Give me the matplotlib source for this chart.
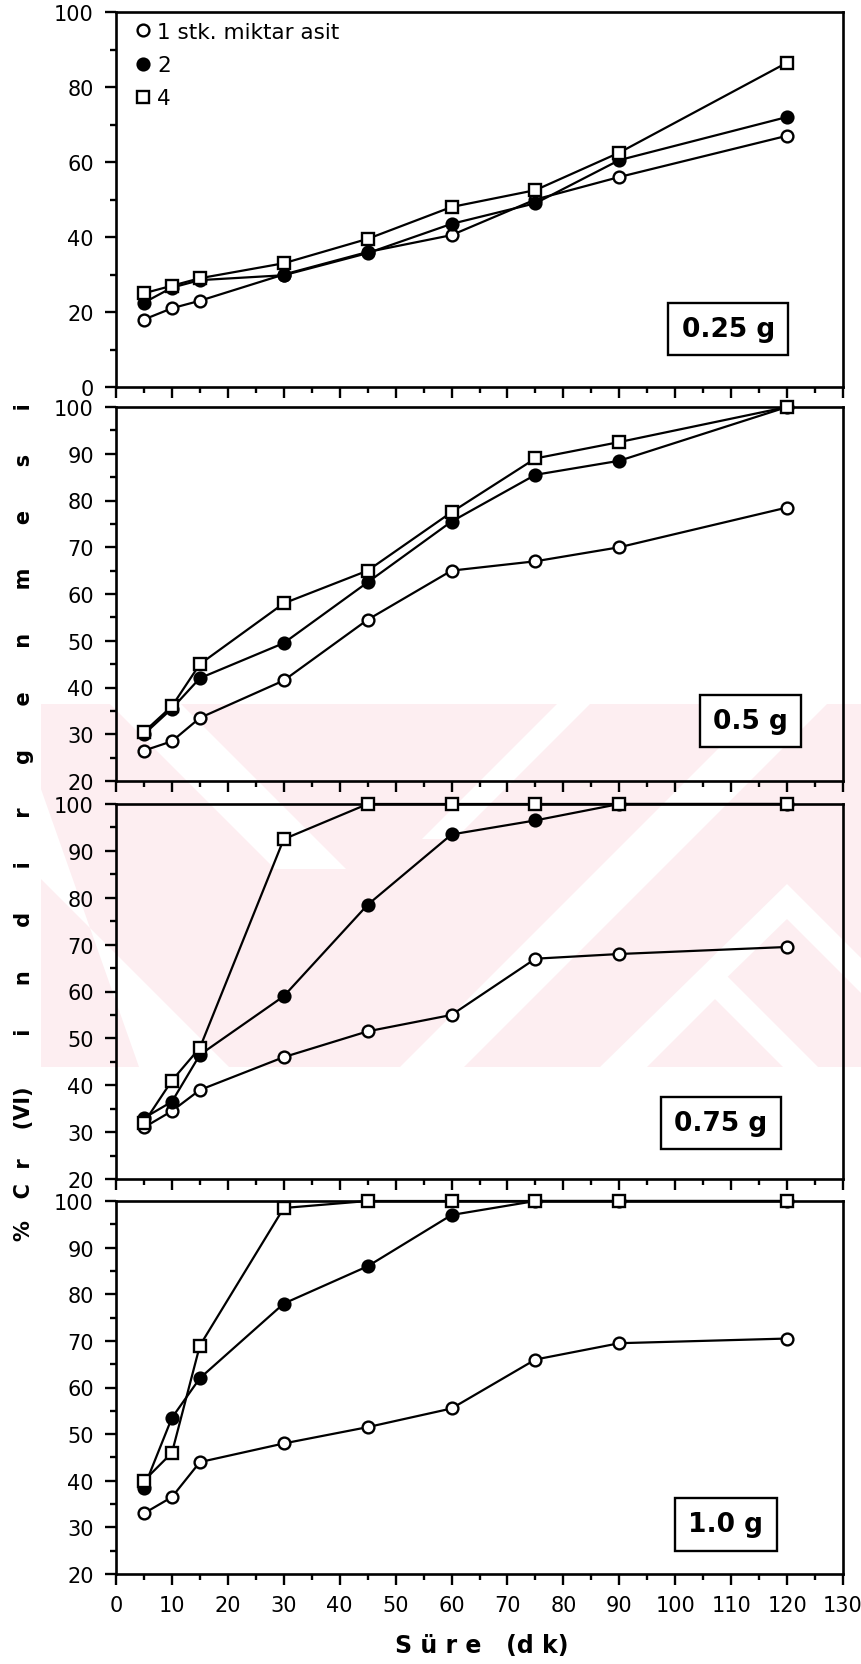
import matplotlib
matplotlib.use("Agg")
import matplotlib.pyplot as plt
from matplotlib.lines import Line2D
from matplotlib.patches import Polygon
from matplotlib.ticker import MultipleLocator

# ---------------- data ----------------
time_min = [5, 10, 15, 30, 45, 60, 75, 90, 120]
series_labels = ["1 stk. miktar asit", "2", "4"]
panel_labels = ["0.25 g", "0.5 g", "0.75 g", "1.0 g"]

# 0.25 g
p025_acid1 = [18, 21, 23, 30, 36, 40.5, 50, 56, 67]
p025_acid2 = [22.5, 26.5, 28.5, 29.8, 35.7, 43.5, 49, 60.5, 72]
p025_acid4 = [25, 27, 29, 33, 39.5, 48, 52.5, 62.5, 86.5]
# 0.5 g
p050_acid1 = [26.5, 28.5, 33.5, 41.5, 54.5, 65, 67, 70, 78.5]
p050_acid2 = [30, 35.5, 42, 49.5, 62.5, 75.5, 85.5, 88.5, 100]
p050_acid4 = [30.5, 36, 45, 58, 65, 77.5, 89, 92.5, 100]
# 0.75 g
p075_acid1 = [31, 34.5, 39, 46, 51.5, 55, 67, 68, 69.5]
p075_acid2 = [33, 36.5, 46.5, 59, 78.5, 93.5, 96.5, 100, 100]
p075_acid4 = [32, 41, 48, 92.5, 100, 100, 100, 100, 100]
# 1.0 g
p100_acid1 = [33, 36.5, 44, 48, 51.5, 55.5, 66, 69.5, 70.5]
p100_acid2 = [38.5, 53.5, 62, 78, 86, 97, 100, 100, 100]
p100_acid4 = [40, 46, 69, 98.5, 100, 100, 100, 100, 100]

panels = [
    (p025_acid1, p025_acid2, p025_acid4),
    (p050_acid1, p050_acid2, p050_acid4),
    (p075_acid1, p075_acid2, p075_acid4),
    (p100_acid1, p100_acid2, p100_acid4),
]

y_label = "%   C  r    (VI)       i      n      d      i      r      g      e      n      m      e      s      i"
x_label = "S ü r e   (d k)"

# ---------------- layout ----------------
W, H = 861, 1665
fig = plt.figure(figsize=(W / 100, H / 100), dpi=100)
fig.patch.set_facecolor("white")


def fpoly(pts, **kw):
    return Polygon([(x / W, 1 - y / H) for x, y in pts], closed=True,
                   transform=fig.transFigure, **kw)


# faint background watermark (pink diagonal pattern) behind the axes
pink = "#fdeef1"
y0w, y1w = 705, 1068
fig.patches.append(fpoly([(41, y0w), (861, y0w), (861, y1w), (41, y1w)], fc=pink, ec="none", zorder=-2))
white_shapes = [
    [(110, y0w), (181, y0w), (346, 870), (275, 870)],
    [(41, 790), (41, 880), (229, y1w), (139, y1w)],
    [(763, y0w), (827, y0w), (464, y1w), (400, y1w)],
    [(557, y0w), (590, y0w), (455, 840), (422, 840)],
    [(787, 885), (861, 959), (861, 994), (787, 920), (635, y1w), (600, y1w)],
    [(715, 965), (818, y1w), (783, y1w), (715, 1000), (647, y1w), (612, y1w)],
]
for pts in white_shapes:
    fig.patches.append(fpoly(pts, fc="white", ec="none", zorder=-1))

left_px, right_px = 116, 843
panel_px = [(13, 388), (408, 782), (805, 1180), (1202, 1575)]
ylims = [(0, 100), (20, 100), (20, 100), (20, 100)]
label_pos = [(0.842, 0.155), (0.873, 0.16), (0.832, 0.15), (0.839, 0.133)]

styles = [
    dict(marker="o", mfc="white", mec="black"),
    dict(marker="o", mfc="black", mec="black"),
    dict(marker="s", mfc="white", mec="black"),
]

axes = []
for i, ((top, bot), (ya, yb)) in enumerate(zip(panel_px, ylims)):
    ax = fig.add_axes([left_px / W, 1 - bot / H, (right_px - left_px) / W, (bot - top) / H])
    ax.set_facecolor("none")
    ax.set_xlim(0, 130)
    ax.set_ylim(ya, yb)
    for vals, st in zip(panels[i], styles):
        ax.plot(time_min, vals, color="black", lw=1.6, ms=8.5, mew=1.7,
                clip_on=False, zorder=3, **st)
    for sp in ax.spines.values():
        sp.set_linewidth(1.9)
    ax.xaxis.set_major_locator(MultipleLocator(10))
    ax.xaxis.set_minor_locator(MultipleLocator(5))
    if i == 0:
        ax.yaxis.set_major_locator(MultipleLocator(20))
        ax.yaxis.set_minor_locator(MultipleLocator(10))
    else:
        ax.yaxis.set_major_locator(MultipleLocator(10))
        ax.yaxis.set_minor_locator(MultipleLocator(5))
    ax.tick_params(which="both", direction="out", top=False, right=False, width=1.7)
    ax.tick_params(which="major", length=8, labelsize=15)
    ax.tick_params(axis="y", which="major", pad=8)
    ax.tick_params(axis="x", which="major", pad=7)
    ax.tick_params(which="minor", length=4)
    if i < 3:
        ax.tick_params(axis="x", labelbottom=False)
    ax.text(label_pos[i][0], label_pos[i][1], panel_labels[i], transform=ax.transAxes,
            ha="center", va="center", fontsize=19, fontweight="bold",
            bbox=dict(boxstyle="square,pad=0.5", fc="white", ec="black", lw=1.7),
            zorder=5)
    axes.append(ax)

handles = [Line2D([], [], linestyle="none", color="black", ms=8.5, mew=1.7, **st) for st in styles]
axes[0].legend(handles, series_labels, loc="upper left", bbox_to_anchor=(0.014, 1.0),
               frameon=False, fontsize=15.5, handlelength=0.7, handletextpad=0.3,
               labelspacing=0.62, borderpad=0.25, borderaxespad=0.2)

fig.text(24 / W, 1 - 822 / H, y_label, rotation=90, ha="center", va="center",
         fontsize=15, fontweight="bold")
fig.text(482 / W, 1 - 1646 / H, x_label, ha="center", va="center",
         fontsize=17, fontweight="bold")

fig.savefig("out.png", dpi=100)
